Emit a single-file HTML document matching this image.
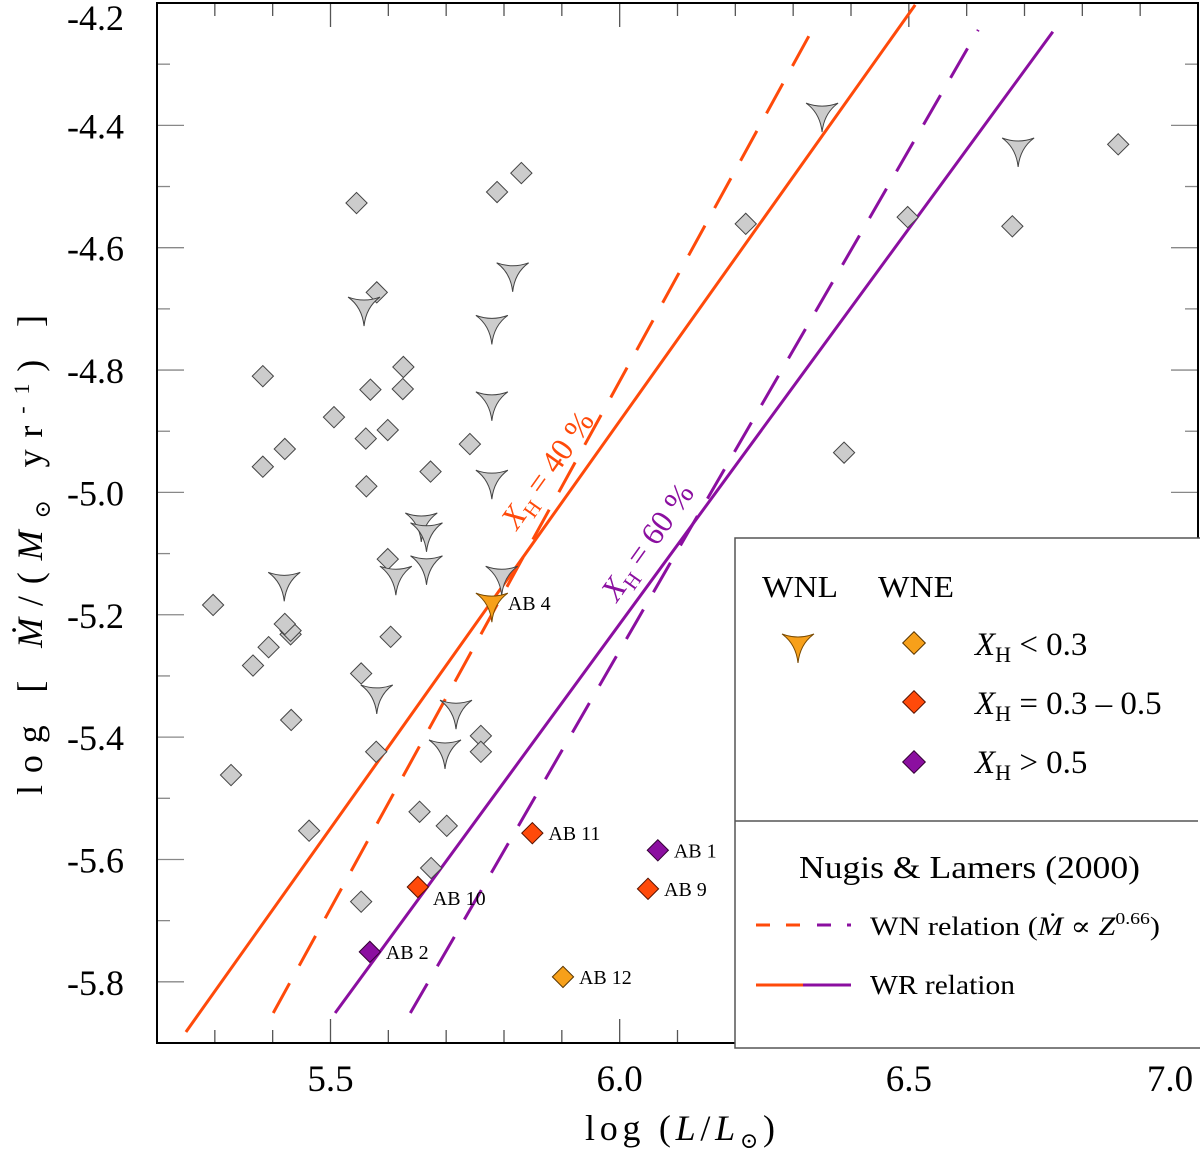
<!DOCTYPE html>
<html><head><meta charset="utf-8"><style>
html,body{margin:0;padding:0;background:#fff}
svg{display:block;font-family:"Liberation Serif","DejaVu Serif",serif}
</style></head><body>
<svg id="chart" width="1200" height="1154" viewBox="0 0 1200 1154" xmlns="http://www.w3.org/2000/svg">
<g id="ticks"></g>
<g id="lines"></g>
<g id="marks"></g>
<rect x="157" y="3" width="1041" height="1040" fill="none" stroke="#000" stroke-width="2"/>
<g id="ylabels" font-size="36" text-anchor="end"></g>
<g id="xlabels" font-size="37" text-anchor="middle"></g>
<text x="585" y="1140" font-size="36" textLength="190" lengthAdjust="spacing">log (<tspan font-style="italic">L</tspan>/<tspan font-style="italic">L</tspan><tspan font-size="22" dy="8">⊙</tspan><tspan dy="-8">)</tspan></text>
<text transform="translate(42,795) rotate(-90)" font-size="36" textLength="480" lengthAdjust="spacing">log [ <tspan font-style="italic">Ṁ</tspan>/(<tspan font-style="italic">M</tspan><tspan font-size="22" dy="8">⊙</tspan><tspan dy="-8"> yr</tspan><tspan font-size="22" dy="-13">-1</tspan><tspan dy="13">) ]</tspan></text>
<text transform="translate(556,476) rotate(-54.6)" font-size="32" fill="#ff4a0a" text-anchor="middle"><tspan font-style="italic">X</tspan><tspan font-size="21" dy="7">H</tspan><tspan dy="-7"> = 40 %</tspan></text>
<text transform="translate(656,548) rotate(-54.6)" font-size="32" fill="#8b0fa0" text-anchor="middle"><tspan font-style="italic">X</tspan><tspan font-size="21" dy="7">H</tspan><tspan dy="-7"> = 60 %</tspan></text>
<g id="legend">
<rect x="735" y="538" width="470" height="510" fill="#fff" stroke="#555" stroke-width="1.5"/>
<line x1="735" y1="821" x2="1198" y2="821" stroke="#555" stroke-width="1.5"/>
<text x="762" y="597" font-size="31" textLength="76" lengthAdjust="spacingAndGlyphs">WNL</text>
<text x="878" y="597" font-size="31" textLength="76" lengthAdjust="spacingAndGlyphs">WNE</text>
<path transform="translate(798,644)" d="M-16,-10 Q0,-4 16,-10 Q2,0 0,19 Q-2,0 -16,-10Z" fill="#f7a01a" stroke="#7a4a00" stroke-width="1"/>
<rect x="-8" y="-8" width="16" height="16" transform="translate(914,643) rotate(45)" fill="#f7a01a" stroke="#553300" stroke-width="1"/>
<rect x="-8" y="-8" width="16" height="16" transform="translate(914,702) rotate(45)" fill="#ff4a0a" stroke="#551100" stroke-width="1"/>
<rect x="-8" y="-8" width="16" height="16" transform="translate(914,762) rotate(45)" fill="#8b0fa0" stroke="#330033" stroke-width="1"/>
<text x="975" y="655" font-size="33"><tspan font-style="italic">X</tspan><tspan font-size="22" dy="7">H</tspan><tspan dy="-7"> &lt; 0.3</tspan></text>
<text x="975" y="714" font-size="33"><tspan font-style="italic">X</tspan><tspan font-size="22" dy="7">H</tspan><tspan dy="-7"> = 0.3 – 0.5</tspan></text>
<text x="975" y="773" font-size="33"><tspan font-style="italic">X</tspan><tspan font-size="22" dy="7">H</tspan><tspan dy="-7"> &gt; 0.5</tspan></text>
<text x="799" y="878" font-size="32" textLength="341" lengthAdjust="spacingAndGlyphs">Nugis &amp; Lamers (2000)</text>
<line x1="756" y1="925" x2="803" y2="925" stroke="#ff4a0a" stroke-width="3" stroke-dasharray="14,16"/>
<line x1="803" y1="925" x2="851" y2="925" stroke="#8b0fa0" stroke-width="3" stroke-dasharray="14,16" stroke-dashoffset="-14"/>
<text x="870" y="935" font-size="26" textLength="290" lengthAdjust="spacingAndGlyphs">WN relation  (<tspan font-style="italic">Ṁ</tspan> ∝ <tspan font-style="italic">Z</tspan><tspan font-size="17" dy="-11">0.66</tspan><tspan dy="11">)</tspan></text>
<line x1="756" y1="985" x2="803" y2="985" stroke="#ff4a0a" stroke-width="3"/>
<line x1="803" y1="985" x2="851" y2="985" stroke="#8b0fa0" stroke-width="3"/>
<text x="870" y="994" font-size="27" textLength="145" lengthAdjust="spacingAndGlyphs">WR relation</text>
</g>
</svg>
<script>
// axis domains
const xDomain = [5.2, 7.0];
const yDomain = [-5.9, -4.2];
const xTickLabels = ["5.5", "6.0", "6.5", "7.0"];
const yTickLabels = ["-5.8", "-5.6", "-5.4", "-5.2", "-5.0", "-4.8", "-4.6", "-4.4", "-4.2"];
// gray WNE diamonds (logL, logMdot)
const diamondL = [5.297,5.328,5.366,5.383,5.383,5.393,5.421,5.431,5.432,5.463,5.506,5.545,5.553,5.553,5.561,5.562,5.569,5.580,5.579,5.599,5.599,5.604,5.626,5.654,5.625,5.674,5.673,5.701,5.741,5.760,5.760,5.788,5.830,6.218,6.388,6.498,6.679,6.862,5.431,5.421];
const diamondM = [-5.184,-5.462,-5.283,-4.810,-4.958,-5.253,-4.929,-5.232,-5.372,-5.553,-4.877,-4.527,-5.296,-5.669,-4.912,-4.990,-4.832,-4.673,-5.424,-4.898,-5.109,-5.236,-4.795,-5.522,-4.831,-5.614,-4.966,-5.545,-4.921,-5.398,-5.424,-4.509,-4.478,-4.561,-4.935,-4.550,-4.565,-4.431,-5.226,-5.215];
// gray WNL stars
const starL = [5.420,5.558,5.580,5.613,5.657,5.666,5.666,5.698,5.717,5.779,5.796,5.815,5.779,5.779,6.350,6.689];
const starM = [-5.147,-4.697,-5.331,-5.137,-5.050,-5.066,-5.120,-5.421,-5.356,-4.852,-5.137,-4.641,-4.727,-4.980,-4.380,-4.437];
// named objects
const abNames = ["AB 4","AB 11","AB 1","AB 9","AB 10","AB 2","AB 12"];
const abL = [5.779,5.849,6.066,6.049,5.651,5.568,5.902];
const abM = [-5.181,-5.557,-5.585,-5.648,-5.645,-5.751,-5.792];
const abType = ["star","diamond","diamond","diamond","diamond","diamond","diamond"];
const abClass = ["low","mid","high","mid","mid","high","low"];
// relation lines: [start logL, end logL], [start logMdot, end logMdot]
const wrOrangeL = [5.250, 6.511], wrOrangeM = [-5.882, -4.203];
const wnOrangeL = [5.401, 6.333], wnOrangeM = [-5.851, -4.244];
const wrPurpleL = [5.508, 6.749], wrPurpleM = [-5.851, -4.247];
const wnPurpleL = [5.638, 6.620], wnPurpleM = [-5.851, -4.244];

const X0=157, X1=1198, Y0=1043, Y1=3;
function xs(v){return X0+(v-xDomain[0])/(xDomain[1]-xDomain[0])*(X1-X0);}
function ys(v){return Y0-(v-yDomain[0])/(yDomain[1]-yDomain[0])*(Y0-Y1);}
const NS="http://www.w3.org/2000/svg";
function mk(tag, parent, attrs){const e=document.createElementNS(NS,tag);for(const k in attrs)e.setAttribute(k,attrs[k]);parent.appendChild(e);return e;}
const colors={low:"#f7a01a",mid:"#ff4a0a",high:"#8b0fa0"};
const strokes={low:"#553300",mid:"#551100",high:"#330033"};

const tg=document.getElementById('ticks');
for(let i=0;i<=18;i++){
  const v=xDomain[0]+i*0.1; const x=xs(v);
  const major=(i%5)===3;
  const len=major?24:13;
  const t1=mk('line',tg,{x1:x,y1:Y0,x2:x,y2:Y0-len,stroke:"#555","stroke-width":1.3});
  
  
  const t2=mk('line',tg,{x1:x,y1:Y1,x2:x,y2:Y1+len,stroke:"#555","stroke-width":1.3});
  
  
}
for(let i=0;i<=17;i++){
  const v=yDomain[0]+i*0.1; const y=ys(v);
  const major=(i%2)===1; const len=major?27:13;
  const t1=mk('line',tg,{x1:X0,y1:y,x2:X0+len,y2:y,stroke:"#888","stroke-width":1.3});
  
  
  const t2=mk('line',tg,{x1:X1,y1:y,x2:X1-len,y2:y,stroke:"#888","stroke-width":1.3});
  
  
}
const yl=document.getElementById('ylabels');
yTickLabels.forEach(s=>{
  let y=ys(parseFloat(s))+13; if(y<30) y=30;
  const t=mk('text',yl,{x:124,y:y});t.textContent=s;
  
  });
const xl=document.getElementById('xlabels');
xTickLabels.forEach(s=>{
  let x=xs(parseFloat(s)); if(x>1170) x=1170;
  const t=mk('text',xl,{x:x,y:1091});t.textContent=s;
  
  });

const lg=document.getElementById('lines');
function rel(L,M,color,dash,name){
  const a={x1:xs(L[0]),y1:ys(M[0]),x2:xs(L[1]),y2:ys(M[1]),stroke:color,"stroke-width":3};
  if(dash)a["stroke-dasharray"]="34,20";
  const e=mk('line',lg,a);
  
  
}
rel(wrOrangeL,wrOrangeM,"#ff4a0a",false,"wr-relation-xh40");
rel(wnOrangeL,wnOrangeM,"#ff4a0a",true,"wn-relation-xh40");
rel(wrPurpleL,wrPurpleM,"#8b0fa0",false,"wr-relation-xh60");
rel(wnPurpleL,wnPurpleM,"#8b0fa0",true,"wn-relation-xh60");

const mg=document.getElementById('marks');
const STAR="M-16,-10 Q0,-4 16,-10 Q2,0 0,19 Q-2,0 -16,-10Z";
function diamond(x,y,fill,stroke,name){
  const e=mk('rect',mg,{x:-7.5,y:-7.5,width:15,height:15,transform:`translate(${x},${y}) rotate(45)`,fill:fill,stroke:stroke,"stroke-width":1});
  
  
}
function star(x,y,fill,stroke,name){
  const e=mk('path',mg,{d:STAR,transform:`translate(${x},${y})`,fill:fill,stroke:stroke,"stroke-width":1});
  
  
}
diamondL.forEach((l,i)=>diamond(xs(l),ys(diamondM[i]),"#cccccc","#444","wne-diamond"));
starL.forEach((l,i)=>star(xs(l),ys(starM[i]),"#cccccc","#444","wnl-star"));
abNames.forEach((n,i)=>{
  const x=xs(abL[i]), y=ys(abM[i]);
  if(abType[i]==="star") star(x,y,colors[abClass[i]],"#7a4a00","ab-star");
  else diamond(x,y,colors[abClass[i]],strokes[abClass[i]],"ab-diamond");
  const t=mk('text',mg,{x:x+(n==="AB 10"?15:16),y:y+(n==="AB 10"?18:7),"font-size":20});
  t.textContent=n;
  
  
});
</script>
</body></html>
